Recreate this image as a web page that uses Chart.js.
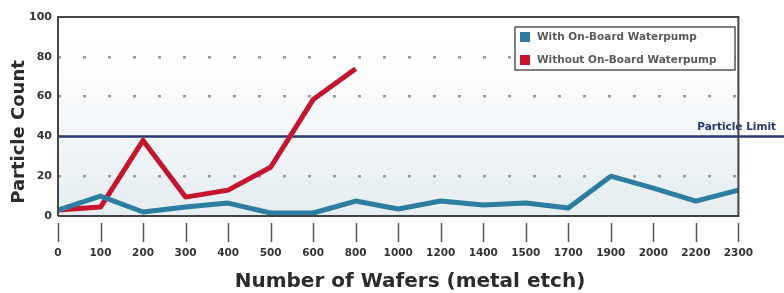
<!DOCTYPE html>
<html>
<head>
<meta charset="utf-8">
<script src="https://cdn.jsdelivr.net/npm/chart.js@4.4.0/dist/chart.umd.min.js"></script>
<style>
  html, body { margin: 0; padding: 0; background: #fff; }
  #wrap { width: 784px; height: 293px; }
</style>
</head>
<body>
<div id="wrap"><canvas id="chart" width="784" height="293"></canvas></div>
<script>
// ── Data ────────────────────────────────────────────────────────────────────
const WAFER_LABELS = ['0', '100', '200', '300', '400', '500', '600', '800', '1000',
    '1200', '1400', '1500', '1700', '1900', '2000', '2200', '2300'];
const WITH_PUMP = [3, 10, 2, 4.5, 6.5, 1.5, 1.5, 7.5, 3.5, 7.5, 5.5, 6.5, 4, 20, 14, 7.5, 13];
const WITHOUT_PUMP = [3, 4.5, 38, 9.5, 13, 24.5, 58.5, 74];
const Y_TICKS = [0, 20, 40, 60, 80, 100];
const PARTICLE_LIMIT = 40;

const LIMIT_LABEL = 'Particle Limit';
const X_TITLE = 'Number of Wafers (metal etch)';
const Y_TITLE = 'Particle Count';

const BLUE = '#2c7da0';
const RED = '#c8132f';
const NAVY = '#27396e';
const FRAME = '#444';
const BOLD = '"DejaVu Sans", sans-serif';

// ── Plugins ─────────────────────────────────────────────────────────────────

// light blue wash in the lower part of the plot
const plotBackground = {
    id: 'plotBackground',
    beforeDraw(chart) {
        const { ctx, chartArea: a } = chart;
        const g = ctx.createLinearGradient(0, a.top, 0, a.bottom);
        g.addColorStop(0, 'rgba(255,255,255,0)');
        g.addColorStop(0.5, 'rgba(236,242,245,0.6)');
        g.addColorStop(1, 'rgba(228,237,241,1)');
        ctx.save();
        ctx.fillStyle = g;
        ctx.fillRect(a.left, a.top, a.right - a.left, a.bottom - a.top);
        ctx.restore();
    },
};

// the particle limit line runs past the right edge of the plot
const limitLine = {
    id: 'limitLine',
    beforeDatasetsDraw(chart) {
        const { ctx, chartArea: a, scales } = chart;
        const y = scales.y.getPixelForValue(PARTICLE_LIMIT);
        ctx.save();
        ctx.strokeStyle = NAVY;
        ctx.lineWidth = 2.5;
        ctx.beginPath();
        ctx.moveTo(a.left, y);
        ctx.lineTo(chart.width, y);
        ctx.stroke();
        ctx.fillStyle = NAVY;
        ctx.font = `bold 10.5px ${BOLD}`;
        ctx.textAlign = 'right';
        ctx.textBaseline = 'alphabetic';
        ctx.fillText(LIMIT_LABEL, chart.width - 8, y - 6);
        ctx.restore();
    },
};

// plot frame, x tick marks, axis titles, boxed legend
const decorations = {
    id: 'decorations',
    afterDatasetsDraw(chart) {
        const { ctx, chartArea: a } = chart;
        ctx.save();
        ctx.strokeStyle = FRAME;
        ctx.lineWidth = 2;
        ctx.beginPath();
        ctx.moveTo(a.left, a.bottom);
        ctx.lineTo(a.left, a.top);
        ctx.lineTo(a.right, a.top);
        ctx.lineTo(a.right, a.bottom);
        ctx.lineTo(a.left, a.bottom);
        ctx.stroke();
        ctx.restore();
    },
    afterDraw(chart) {
        const { ctx, chartArea: a, scales } = chart;
        ctx.save();

        // detached tick marks under the x axis
        ctx.strokeStyle = '#555';
        ctx.lineWidth = 1.5;
        WAFER_LABELS.forEach((_, i) => {
            const x = Math.round(scales.x.getPixelForTick(i)) + 0.5;
            ctx.beginPath();
            ctx.moveTo(x, a.bottom + 7);
            ctx.lineTo(x, a.bottom + 26);
            ctx.stroke();
        });

        // axis titles
        ctx.fillStyle = '#2b2b2b';
        ctx.font = `bold 20px ${BOLD}`;
        ctx.textAlign = 'center';
        ctx.textBaseline = 'alphabetic';
        ctx.fillText(X_TITLE, 410, 287);

        ctx.save();
        ctx.translate(24, 132);
        ctx.rotate(-Math.PI / 2);
        ctx.font = `bold 18px ${BOLD}`;
        ctx.fillText(Y_TITLE, 0, 0);
        ctx.restore();

        // legend box
        const box = { x: 515, y: 27, w: 220, h: 43 };
        ctx.fillStyle = '#fff';
        ctx.fillRect(box.x, box.y, box.w, box.h);
        ctx.strokeStyle = '#555';
        ctx.lineWidth = 1.5;
        ctx.strokeRect(box.x, box.y, box.w, box.h);
        ctx.font = `bold 10.5px ${BOLD}`;
        ctx.textAlign = 'left';
        ctx.textBaseline = 'middle';
        chart.data.datasets.forEach((ds, i) => {
            const cy = box.y + 10 + i * 23;
            ctx.fillStyle = ds.borderColor;
            ctx.fillRect(box.x + 5, cy - 5, 10, 10);
            ctx.fillStyle = '#5a5a5a';
            ctx.fillText(ds.label, box.x + 22, cy);
        });

        ctx.restore();
    },
};

// ── Chart ───────────────────────────────────────────────────────────────────

const GRID_DOTS = [20, 60, 80];

new Chart(document.getElementById('chart').getContext('2d'), {
    type: 'line',
    data: {
        labels: WAFER_LABELS,
        datasets: [
            {
                label: 'With On-Board Waterpump',
                data: WITH_PUMP,
                borderColor: BLUE,
                borderWidth: 5,
                pointRadius: 0,
                tension: 0,
                borderJoinStyle: 'round',
            },
            {
                label: 'Without On-Board Waterpump',
                data: WITHOUT_PUMP,
                borderColor: RED,
                borderWidth: 5,
                pointRadius: 0,
                tension: 0,
                borderJoinStyle: 'round',
            },
        ],
    },
    options: {
        responsive: false,
        animation: false,
        devicePixelRatio: 1,
        layout: { padding: { top: 17, right: 43, left: 0, bottom: 0 } },
        plugins: {
            legend: { display: false },
            tooltip: { enabled: false },
        },
        scales: {
            x: {
                type: 'category',
                offset: false,
                afterFit: s => { s.height = 77; },
                grid: { display: false, drawTicks: false },
                border: { display: false },
                ticks: {
                    color: '#333',
                    font: { family: BOLD, size: 10.5, weight: 'bold' },
                    padding: 31,
                    maxRotation: 0,
                    autoSkip: false,
                },
            },
            y: {
                min: 0,
                max: 100,
                afterFit: s => { s.width = 58; },
                afterBuildTicks: s => { s.ticks = Y_TICKS.map(v => ({ value: v })); },
                grid: {
                    drawTicks: false,
                    lineWidth: 2.5,
                    color: c => GRID_DOTS.includes(c.tick?.value) ? '#999' : 'rgba(0,0,0,0)',
                },
                border: { display: false, dash: [3, 22] },
                ticks: {
                    color: '#333',
                    font: { family: BOLD, size: 11, weight: 'bold' },
                    padding: 6,
                },
            },
        },
    },
    plugins: [plotBackground, limitLine, decorations],
});
</script>
</body>
</html>
